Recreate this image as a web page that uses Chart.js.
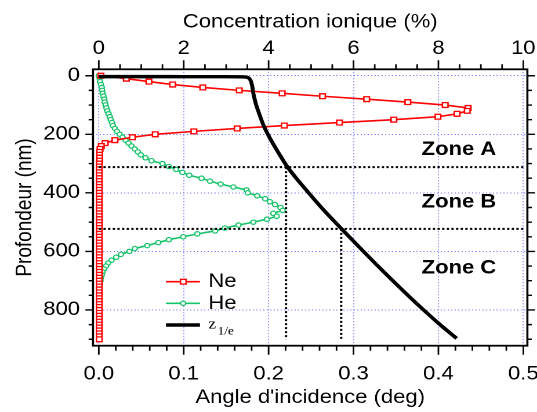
<!DOCTYPE html>
<html>
<head>
<meta charset="utf-8">
<script src="https://cdn.jsdelivr.net/npm/chart.js@4.4.1/dist/chart.umd.min.js"></script>
<style>
  html, body { margin: 0; padding: 0; background: #fff; }
  canvas { display: block; }
</style>
</head>
<body>
<!-- drawn at 463px wide, shown stretched to 537px like the original figure -->
<canvas id="chart" width="463" height="412" style="width:537px;height:412px"></canvas>
<script>
// Depth sampling (nm)
const depthNm = [
  0, 10, 20, 30, 40, 50, 60, 70, 80, 90,
  100, 110, 120, 130, 140, 150, 160, 170, 180, 190,
  200, 210, 220, 230, 240, 250, 260, 270, 280, 290,
  300, 310, 320, 330, 340, 350, 360, 370, 380, 390,
  400, 410, 420, 430, 440, 450, 460, 470, 480, 490,
  500, 510, 520, 530, 540, 550, 560, 570, 580, 590,
  600, 610, 620, 630, 640, 650, 660, 670, 680, 690,
  700, 710, 720, 730, 740, 750, 760, 770, 780, 790,
  800, 810, 820, 830, 840, 850, 860, 870, 880, 890,
  900
];

// Ne ion concentration (%)
const neConc = [
  0.05, 0.65, 1.18, 1.74, 2.45, 3.31, 4.32, 5.27, 6.31, 7.28,
  8.16, 8.70, 8.68, 8.44, 7.99, 6.95, 5.67, 4.37, 3.26, 2.24,
  1.33, 0.79, 0.38, 0.15, 0.06, 0.03, 0.02, 0.02, 0.02, 0.02,
  0.01, 0.01, 0.01, 0.01, 0.01, 0.01, 0.01, 0.01, 0.01, 0.01,
  0.01, 0.01, 0.01, 0.01, 0.01, 0.01, 0.01, 0.01, 0.01, 0.01,
  0.01, 0.01, 0.01, 0.01, 0.01, 0.01, 0.01, 0.01, 0.01, 0.01,
  0.01, 0.01, 0.01, 0.01, 0.01, 0.01, 0.01, 0.01, 0.01, 0.01,
  0.01, 0.01, 0.01, 0.01, 0.01, 0.01, 0.01, 0.01, 0.01, 0.01,
  0.01, 0.01, 0.01, 0.01, 0.01, 0.01, 0.01, 0.01, 0.01, 0.01,
  0.01
];

// He ion concentration (%)
const heConc = [
  0.00, 0.02, 0.03, 0.05, 0.07, 0.08, 0.09, 0.11, 0.13, 0.14,
  0.16, 0.18, 0.20, 0.23, 0.26, 0.28, 0.31, 0.33, 0.38, 0.43,
  0.49, 0.56, 0.63, 0.70, 0.77, 0.85, 0.92, 0.99, 1.10, 1.24,
  1.50, 1.65, 1.82, 1.97, 2.13, 2.42, 2.62, 2.87, 3.17, 3.48,
  3.51, 3.73, 3.92, 4.03, 4.15, 4.28, 4.33, 4.11, 4.19, 3.96,
  3.64, 3.29, 2.97, 2.74, 2.32, 1.99, 1.65, 1.40, 1.14, 0.85,
  0.72, 0.52, 0.41, 0.30, 0.22, 0.17, 0.12, 0.09, 0.07, 0.05,
  0.04, 0.03, 0.02, 0.02, 0.01, 0.01, 0.01, 0.01, 0.01, 0.01,
  0.01, 0.01, 0.01, 0.01, 0.01, 0.01, 0.01, 0.01, 0.01, 0.01,
  0.01
];

// Penetration depth z_1/e versus incidence angle
const zAngle = [0, 0.05, 0.10, 0.15, 0.1663, 0.1749, 0.1789, 0.1808, 0.1820, 0.1848,
  0.1887, 0.1938, 0.2017, 0.2114, 0.2221, 0.2448, 0.2645, 0.2861, 0.3077, 0.3312,
  0.3548, 0.3783, 0.4019, 0.4215];
const zDepth = [3, 3, 3.1, 3.3, 3.6, 5.5, 17, 37.6, 60, 94,
  128, 168, 214, 262, 311, 392, 457.5, 523.4, 588, 657,
  724, 788.6, 850, 897];

// Zone boundaries: depth (nm) and the matching angle on z_1/e
const zoneDepth = [312, 523];
const zoneAngle = [0.2205, 0.2855];
const zoneNames = ["Zone A", "Zone B", "Zone C"];

// Axis ticks
const angleTicks = [0, 0.1, 0.2, 0.3, 0.4, 0.5];
const concTicks = [0, 2, 4, 6, 8, 10];
const depthTicks = [0, 200, 400, 600, 800];

const X_MIN = -0.0068, X_MAX = 0.5048;
const Y_MIN = -22, Y_MAX = 922;

const SANS = "'Liberation Sans', Arial, sans-serif";
const SERIF = "'Liberation Serif', 'Times New Roman', serif";
const RED = "#ff0000";
const GREEN = "#17c46a";
const GRID = "rgba(90, 90, 255, 0.8)";

Chart.defaults.color = "#000";
Chart.defaults.font.family = SANS;

// keep the plot box fixed: no extra room for overhanging end labels
const fixBox = (size) => (s) => {
  if (s.isHorizontal()) s.height = size; else s.width = size;
  s.paddingLeft = 0; s.paddingRight = 0; s.paddingTop = 0; s.paddingBottom = 0;
};

// Frame, outer ticks, legend and zone captions
const decorations = {
  id: "decorations",
  afterDraw(chart) {
    const { ctx, chartArea: a, scales } = chart;
    const x = scales.x, x2 = scales.x2, y = scales.y;
    ctx.save();
    ctx.strokeStyle = "#000";
    ctx.lineWidth = 1.4;
    ctx.beginPath();
    // bottom ticks every 0.02 deg
    for (let i = 0; i <= 25; i++) {
      const px = x.getPixelForValue(i * 0.02);
      const len = i % 5 === 0 ? 9 : 5;
      ctx.moveTo(px, a.bottom);
      ctx.lineTo(px, a.bottom + len);
    }
    // top ticks every 0.5 %
    for (let i = 0; i <= 20; i++) {
      const px = x2.getPixelForValue(i * 0.5);
      const len = i % 4 === 0 ? 9 : 5;
      ctx.moveTo(px, a.top);
      ctx.lineTo(px, a.top - len);
    }
    // left and right ticks every 50 nm
    for (let i = 0; i <= 18; i++) {
      const py = y.getPixelForValue(i * 50);
      const len = i % 4 === 0 ? 6.6 : 3.8;
      ctx.moveTo(a.left, py);
      ctx.lineTo(a.left - len, py);
      ctx.moveTo(a.right, py);
      ctx.lineTo(a.right + len, py);
    }
    ctx.stroke();

    ctx.lineWidth = 1.8;
    ctx.strokeRect(a.left, a.top, a.right - a.left, a.bottom - a.top);

    // legend
    const lx0 = 143.1, lx1 = 172.4, mx = 158, tx = 179.6;
    ctx.lineWidth = 1.6;
    ctx.strokeStyle = RED;
    ctx.beginPath(); ctx.moveTo(lx0, 281.7); ctx.lineTo(lx1, 281.7); ctx.stroke();
    ctx.fillStyle = "#fff";
    ctx.lineWidth = 1.3;
    ctx.fillRect(mx - 2.4, 281.7 - 2.4, 4.8, 4.8);
    ctx.strokeRect(mx - 2.4, 281.7 - 2.4, 4.8, 4.8);

    ctx.lineWidth = 1.6;
    ctx.strokeStyle = GREEN;
    ctx.beginPath(); ctx.moveTo(lx0, 303.3); ctx.lineTo(lx1, 303.3); ctx.stroke();
    ctx.lineWidth = 1.2;
    ctx.beginPath(); ctx.arc(mx, 303.3, 2.2, 0, Math.PI * 2); ctx.fill(); ctx.stroke();

    ctx.lineWidth = 3.4;
    ctx.strokeStyle = "#000";
    ctx.beginPath(); ctx.moveTo(lx0, 325); ctx.lineTo(lx1, 325); ctx.stroke();

    ctx.fillStyle = "#000";
    ctx.textAlign = "left";
    ctx.textBaseline = "middle";
    ctx.font = "19px " + SANS;
    ctx.fillText("Ne", tx, 282);
    ctx.fillText("He", tx, 303.6);
    ctx.textBaseline = "alphabetic";
    ctx.font = "15px " + SERIF;
    ctx.fillText("z", tx, 328.3);
    ctx.font = "11.5px " + SERIF;
    ctx.fillText("1/e", tx + 8, 334.3);

    // zone captions
    ctx.font = "bold 19px " + SANS;
    const baselines = [155, 207.5, 273.3];
    zoneNames.forEach((name, i) => ctx.fillText(name, 363.5, baselines[i]));
    ctx.restore();
  }
};

const zoneSets = [];
zoneDepth.forEach((d, i) => {
  const dotted = {
    borderColor: "#000", borderWidth: 2, borderDash: [2, 2],
    pointRadius: 0, xAxisID: "x", yAxisID: "y"
  };
  zoneSets.push({ ...dotted, data: [{ x: 0, y: d }, { x: 0.5, y: d }] });
  zoneSets.push({ ...dotted, data: [{ x: zoneAngle[i], y: d }, { x: zoneAngle[i], y: 900 }] });
});

const ctx = document.getElementById("chart").getContext("2d");
new Chart(ctx, {
  type: "line",
  data: {
    datasets: [
      {
        label: "z1/e",
        data: zAngle.map((a, i) => ({ x: a, y: zDepth[i] })),
        xAxisID: "x", yAxisID: "y",
        borderColor: "#000", borderWidth: 3.4,
        pointRadius: 0,
        cubicInterpolationMode: "monotone"
      },
      ...zoneSets,
      {
        label: "Ne",
        data: depthNm.map((d, i) => ({ x: neConc[i], y: d })),
        xAxisID: "x2", yAxisID: "y",
        borderColor: RED, borderWidth: 1.6,
        pointStyle: "rect", pointRadius: 3.4,
        pointBackgroundColor: "#fff", pointBorderColor: RED, pointBorderWidth: 1.3
      },
      {
        label: "He",
        data: depthNm.map((d, i) => ({ x: heConc[i], y: d })),
        xAxisID: "x2", yAxisID: "y",
        borderColor: GREEN, borderWidth: 1.6,
        pointStyle: "circle", pointRadius: 2.2,
        pointBackgroundColor: "#fff", pointBorderColor: GREEN, pointBorderWidth: 1.2
      }
    ]
  },
  options: {
    responsive: false,
    devicePixelRatio: 2,
    animation: false,
    layout: { padding: { right: 8.3 } },
    plugins: { legend: { display: false }, tooltip: { enabled: false } },
    scales: {
      x: {
        type: "linear", position: "bottom", min: X_MIN, max: X_MAX,
        afterBuildTicks: (s) => { s.ticks = angleTicks.map((v) => ({ value: v })); },
        afterFit: fixBox(66.3),
        ticks: { callback: (v) => v.toFixed(1), font: { size: 19 }, padding: 17, maxRotation: 0, autoSkip: false },
        grid: { color: GRID, lineWidth: 1, drawTicks: false },
        border: { display: false, dash: [1, 2] },
        title: { display: true, text: "Angle d'incidence (deg)", font: { size: 19 }, padding: { top: 0, bottom: 2.6 } }
      },
      x2: {
        type: "linear", position: "top", min: X_MIN * 20, max: X_MAX * 20,
        afterBuildTicks: (s) => { s.ticks = concTicks.map((v) => ({ value: v })); },
        afterFit: fixBox(69.3),
        ticks: { font: { size: 19 }, padding: 9, maxRotation: 0, autoSkip: false },
        grid: { display: false, drawTicks: false },
        border: { display: false },
        title: { display: true, text: "Concentration ionique (%)", font: { size: 19 }, padding: { top: 11, bottom: 0 } }
      },
      y: {
        type: "linear", position: "left", reverse: true, min: Y_MIN, max: Y_MAX,
        afterBuildTicks: (s) => { s.ticks = depthTicks.map((v) => ({ value: v })); },
        afterFit: fixBox(80.2),
        ticks: { font: { size: 19 }, padding: 11.2, autoSkip: false },
        grid: { color: GRID, lineWidth: 1, drawTicks: false },
        border: { display: false, dash: [1, 2] },
        title: { display: true, text: "Profondeur (nm)", font: { size: 19 }, padding: { top: 10.6, bottom: 0 } }
      }
    }
  },
  plugins: [decorations]
});
</script>
</body>
</html>
